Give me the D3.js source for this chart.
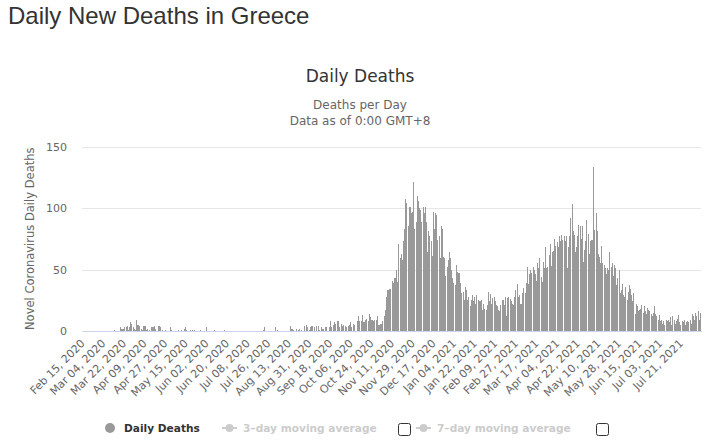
<!DOCTYPE html>
<html>
<head>
<meta charset="utf-8">
<script src="https://cdn.jsdelivr.net/npm/d3@7/dist/d3.min.js"></script>
<style>
  body { margin: 0; background: #fff; }
  svg { display: block; }
</style>
</head>
<body>
<svg id="chart" width="725" height="444"></svg>
<script>
// ---------------- DATA ----------------
const pageTitle = "Daily New Deaths in Greece";
const chartTitle = "Daily Deaths";
const subtitleLines = ["Deaths per Day", "Data as of 0:00 GMT+8"];
const yAxisTitle = "Novel Coronavirus Daily Deaths";
const startDate = "2020-02-15";
const yTicks = [0, 50, 100, 150];
const tickLabels = [
  "Feb 15, 2020", "Mar 04, 2020", "Mar 22, 2020", "Apr 09, 2020", "Apr 27, 2020",
  "May 15, 2020", "Jun 02, 2020", "Jun 20, 2020", "Jul 08, 2020", "Jul 26, 2020",
  "Aug 13, 2020", "Aug 31, 2020", "Sep 18, 2020", "Oct 06, 2020", "Oct 24, 2020",
  "Nov 11, 2020", "Nov 29, 2020", "Dec 17, 2020", "Jan 04, 2021", "Jan 22, 2021",
  "Feb 09, 2021", "Feb 27, 2021", "Mar 17, 2021", "Apr 04, 2021", "Apr 22, 2021",
  "May 10, 2021", "May 28, 2021", "Jun 15, 2021", "Jul 03, 2021", "Jul 21, 2021"
];
const legendItems = ["Daily Deaths", "3\u2013day moving average", "7\u2013day moving average"];

// Feb 15, 2020 - Oct 22, 2020
const deathsSpringSummer2020 = [
  0,0,0,0,0,0,0,0,0,0, 0,0,0,0,0,0,0,0,0,0,
  0,0,0,0,0,0,0,0,1,0, 0,0,0,3,2,2,2,3,3,4,
  1,3,7,6,3,2,1,9,5,5, 4,2,1,4,4,4,1,2,1,0,
  3,3,3,4,2,0,4,4,3,0, 1,0,1,0,0,0,0,3,1,0,
  0,0,0,0,1,0,1,0,0,2, 3,1,0,0,1,0,1,0,1,0,
  0,0,0,1,0,0,0,0,3,0, 0,0,0,0,0,1,0,0,0,0,
  0,0,0,0,1,0,0,0,0,0, 0,0,0,0,0,0,0,0,0,0,
  0,0,0,0,0,0,0,0,0,0, 0,0,0,0,0,0,0,0,1,3,
  0,0,0,0,0,0,0,0,3,0, 1,0,0,0,0,0,0,0,0,0,
  0,4,2,2,1,0,0,2,1,2, 0,1,0,0,4,5,3,0,1,3,
  4,4,3,0,4,0,4,1,3,2, 2,0,3,3,0,3,8,3,0,5,
  7,6,8,8,3,0,6,4,5,4, 3,0,4,5,7,3,6,5,0,0,
  8,12,8,8,13,7,7,9,10,8,14
];
// Oct 23, 2020 - Feb 13, 2021
const deathsSecondWave = [
  11,9,9,8,9,9,12,5,5,6,
  6,8,12,17,28,33,33,34,34,41,
  39,43,43,50,40,71,59,63,58,73,
  83,107,104,85,101,101,96,97,121,83,
  89,110,106,100,98,89,101,96,101,89,
  64,81,77,73,61,97,83,96,94,74,
  77,59,85,83,60,59,45,52,58,64,
  59,50,43,39,37,54,48,47,47,39,
  31,32,25,36,33,25,28,20,25,29,
  24,28,22,29,25,24,24,25,17,22,
  18,17,21,32,24,30,22,27,28,24,
  21,20,17,16
];
// Feb 14, 2021 - Aug 07, 2021
const deathsThirdWave = [
  21,25,25,21,28,12,27,28,26,24,
  22,21,28,33,38,28,29,22,22,31,
  35,31,39,52,38,46,50,47,52,50,
  46,41,55,51,59,44,40,56,51,68,
  51,52,62,71,53,64,65,75,69,72,
  68,77,73,78,74,77,73,77,51,68,
  77,92,103,81,78,64,68,77,86,85,
  75,85,56,66,73,90,79,63,73,74,
  74,133,82,96,81,63,60,55,69,55,
  54,51,46,51,50,64,52,55,45,54,
  51,37,43,50,31,33,38,29,28,36,
  25,32,37,34,29,24,31,14,22,20,
  16,17,18,21,15,20,16,14,19,17,
  16,14,12,15,20,14,12,9,13,8,
  9,6,8,5,9,8,9,7,11,5,
  12,9,6,8,10,13,7,5,8,7,
  9,5,7,8,7,9,6,14,12,9,
  15,12,16,9,15
];

// ---------------- BUILD ----------------
const deaths = deathsSpringSummer2020.concat(deathsSecondWave, deathsThirdWave);
const fmt = d3.timeFormat("%b %d, %Y");
const start = d3.timeParse("%Y-%m-%d")(startDate);
const categories = deaths.map((_, i) => fmt(d3.timeDay.offset(start, i)));
const data = categories.map((c, i) => ({ cat: c, v: deaths[i] }));

const FONT = "'DejaVu Sans', Verdana, sans-serif";
const svg = d3.select("#chart");
const plot = { left: 82, right: 701, top: 146.5, bottom: 331 };

const x = d3.scaleBand().domain(categories).range([plot.left, plot.right]).padding(0);
const y = d3.scaleLinear().domain([0, 150]).range([plot.bottom, plot.top]);

// page heading
svg.append("text").attr("x", 8).attr("y", 24)
  .attr("font-family", "'Liberation Sans', Arial, sans-serif")
  .attr("font-size", 24).attr("fill", "#333").text(pageTitle);

// chart title & subtitle
svg.append("text").attr("x", 360).attr("y", 82).attr("text-anchor", "middle")
  .attr("font-family", FONT).attr("font-size", 17).attr("fill", "#333").text(chartTitle);
subtitleLines.forEach((t, i) => {
  svg.append("text").attr("x", 360).attr("y", 109 + i * 16).attr("text-anchor", "middle")
    .attr("font-family", FONT).attr("font-size", 12).attr("fill", "#666").text(t);
});

// grid lines + y axis labels
const yAxis = d3.axisLeft(y).tickValues(yTicks).tickSize(-(plot.right - plot.left)).tickPadding(15);
const gy = svg.append("g").attr("transform", `translate(${plot.left},0)`).call(yAxis);
gy.select(".domain").remove();
gy.selectAll(".tick line").attr("stroke", "#e6e6e6").attr("shape-rendering", "crispEdges");
gy.selectAll(".tick text").attr("font-family", FONT).attr("font-size", 11).attr("fill", "#666");

// y axis title
svg.append("text")
  .attr("transform", `translate(34,${(plot.top + plot.bottom) / 2}) rotate(-90)`)
  .attr("text-anchor", "middle")
  .attr("font-family", FONT).attr("font-size", 11.5).attr("fill", "#666").text(yAxisTitle);

// bars (1px wide, like the original)
svg.append("g").selectAll("rect").data(data).join("rect")
  .attr("x", d => Math.round(x(d.cat) + x.bandwidth() / 2 - 0.5))
  .attr("width", 1)
  .attr("y", d => y(d.v))
  .attr("height", d => y(0) - y(d.v))
  .attr("fill", "#999")
  .attr("shape-rendering", "crispEdges");

// x axis
const xAxis = d3.axisBottom(x).tickValues(tickLabels).tickSize(0).tickPadding(0);
const gx = svg.append("g").attr("transform", `translate(0,${plot.bottom})`).call(xAxis);
gx.select(".domain").attr("stroke", "#ccd6eb").attr("shape-rendering", "crispEdges");
gx.selectAll(".tick text")
  .attr("font-family", FONT).attr("font-size", 11).attr("fill", "#666")
  .attr("text-anchor", "end")
  .attr("dy", 0).attr("y", 0)
  .attr("transform", "translate(3,13) rotate(-45)");

// legend
const lg = svg.append("g").attr("font-family", FONT).attr("font-size", 10.6).attr("font-weight", "bold");
const ly = 428;
lg.append("circle").attr("cx", 110).attr("cy", ly).attr("r", 5).attr("fill", "#999");
lg.append("text").attr("x", 124).attr("y", ly + 4).attr("fill", "#333").text(legendItems[0]);
[[222, 243, 398], [416, 437, 596]].forEach(([lx, tx, cbx], i) => {
  lg.append("line").attr("x1", lx).attr("x2", lx + 15).attr("y1", ly).attr("y2", ly)
    .attr("stroke", "#ccc").attr("stroke-width", 2);
  lg.append("circle").attr("cx", lx + 7.5).attr("cy", ly).attr("r", 4).attr("fill", "#ccc");
  lg.append("text").attr("x", tx).attr("y", ly + 4).attr("fill", "#ccc").text(legendItems[i + 1]);
  lg.append("rect").attr("x", cbx + 0.5).attr("y", 423.5).attr("width", 12).attr("height", 12)
    .attr("rx", 2).attr("fill", "#fff").attr("stroke", "#333").attr("stroke-width", 1);
});
</script>
</body>
</html>
